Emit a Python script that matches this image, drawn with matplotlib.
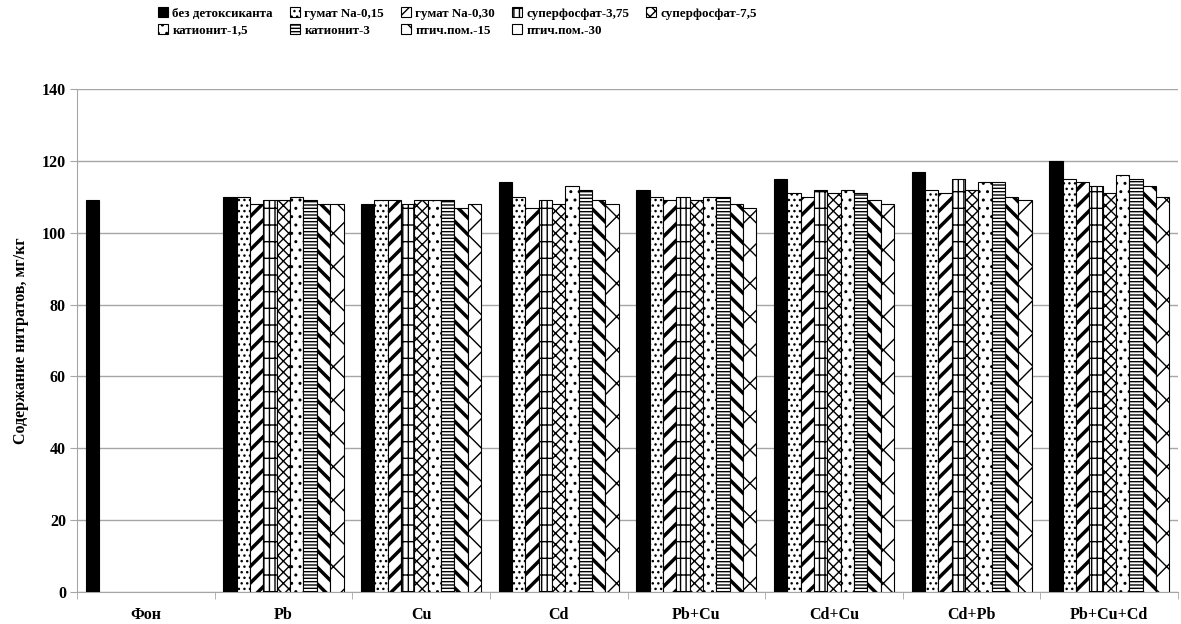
import numpy as np
import matplotlib
matplotlib.use("Agg")
import matplotlib.pyplot as plt

plt.rcParams['font.family'] = ['Liberation Serif', 'DejaVu Serif']
plt.rcParams['font.weight'] = 'bold'

categories = ["Фон", "Pb", "Cu", "Cd", "Pb+Cu", "Cd+Cu", "Cd+Pb", "Pb+Cu+Cd"]

series = ["без детоксиканта", "гумат Na-0,15", "гумат Na-0,30", "суперфосфат-3,75",
          "суперфосфат-7,5", "катионит-1,5", "катионит-3", "птич.пом.-15", "птич.пом.-30"]

nan = np.nan
bez_detox = [109, 110, 108, 114, 112, 115, 117, 120]
gumat_015 = [nan, 110, 109, 110, 110, 111, 112, 115]
gumat_030 = [nan, 108, 109, 107, 109, 110, 111, 114]
superf_375 = [nan, 109, 108, 109, 110, 112, 115, 113]
superf_75 = [nan, 109, 109, 108, 109, 111, 112, 111]
kation_15 = [nan, 110, 109, 113, 110, 112, 114, 116]
kation_3 = [nan, 109, 109, 112, 110, 111, 114, 115]
ptich_15 = [nan, 108, 107, 109, 108, 109, 110, 113]
ptich_30 = [nan, 108, 108, 108, 107, 108, 109, 110]

values = [bez_detox, gumat_015, gumat_030, superf_375, superf_75,
          kation_15, kation_3, ptich_15, ptich_30]

# styles: (facecolor, hatch, hatch linewidth)
styles = [
    ("black", None, 1.0),
    ("white", "...", 1.0),
    ("white", "//", 2.5),
    ("white", "|||-", 1.0),
    ("white", "xxx", 1.0),
    ("white", "..", 1.0),
    ("white", "-----", 1.0),
    ("white", "\\\\", 2.5),
    ("white", "x", 1.0),
]

grey = "#a6a6a6"

fig = plt.figure(figsize=(11.81, 6.24), dpi=100)
ax = fig.add_axes([0.0652, 0.0513, 0.9323, 0.8061])

x = np.arange(len(categories))
n = len(series)
w = 0.097
handles = []
for i, (name, vals) in enumerate(zip(series, values)):
    fc, hatch, hlw = styles[i]
    offs = (i - (n - 1) / 2) * w
    with plt.rc_context({'hatch.linewidth': hlw}):
        bars = ax.bar(x + offs, vals, width=w, color=fc, edgecolor="black",
                      linewidth=0.8, hatch=hatch, label=name, zorder=3)
    for b in bars:
        if hasattr(b, "set_hatch_linewidth"):
            b.set_hatch_linewidth(hlw)
    handles.append(bars)

ax.set_xlim(-0.5, len(categories) - 0.5)
ax.set_ylim(0, 140)
ax.set_yticks(range(0, 141, 20))
ax.yaxis.grid(True, color=grey, linewidth=1.0, zorder=0)
ax.set_axisbelow(True)

ax.set_xticks(x)
ax.set_xticklabels(categories, fontsize=11.5, fontweight="bold")
ax.set_xticks(np.arange(-0.5, len(categories), 1), minor=True)
ax.tick_params(axis="x", which="major", length=0, pad=11)
ax.tick_params(axis="x", which="minor", length=5, color=grey, direction="out")
ax.tick_params(axis="y", length=5, color=grey, pad=3, labelsize=11.5)
for lab in ax.get_yticklabels():
    lab.set_fontweight("bold")

for s in ["top", "right"]:
    ax.spines[s].set_visible(False)
for s in ["left", "bottom"]:
    ax.spines[s].set_color(grey)

ax.set_ylabel("Содержание нитратов, мг/кг", fontsize=11.5, fontweight="bold", labelpad=9)

# legend is filled row by row in the original
order = [0, 5, 1, 6, 2, 7, 3, 8, 4]
fig.legend(handles=[handles[k] for k in order], labels=[series[k] for k in order],
           loc="upper left", bbox_to_anchor=(0.125, 1.005), ncol=5, frameon=False,
           prop={"size": 9.4, "weight": "bold"}, handlelength=0.75,
           handleheight=0.75, handletextpad=0.35, columnspacing=1.3,
           labelspacing=0.35, borderpad=0.3)

fig.savefig("out.png", dpi=100)
